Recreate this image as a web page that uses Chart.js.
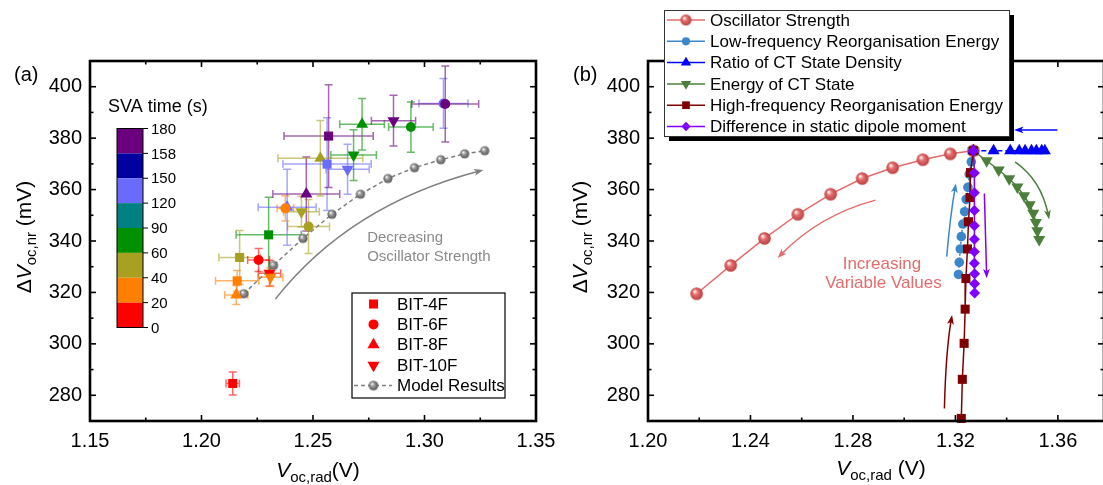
<!doctype html>
<html lang="en">
<head>
<meta charset="UTF-8" />
<title>Voc,nr vs Voc,rad</title>
<script src="https://cdn.jsdelivr.net/npm/chart.js"></script>
<style>
  html, body { margin: 0; padding: 0; background: #fff; overflow: hidden; }
  #wrapA { position: absolute; left: 0; top: 0; width: 570px; height: 485px; }
  #wrapB { position: absolute; left: 551px; top: 0; width: 560px; height: 485px; }
</style>
</head>
<body>
<div id="wrapA"><canvas id="chartA"></canvas></div>
<div id="wrapB"><canvas id="chartB"></canvas></div>
<script>
const FONT = "'Liberation Sans', Arial, Helvetica, sans-serif"
Chart.defaults.font.family = FONT
Chart.defaults.color = '#000'

// ---------- shared model curve (oscillator strength sweep) ----------
const modelX = [1.219, 1.2323, 1.2455, 1.2585, 1.2713, 1.2836, 1.2955, 1.3073, 1.318, 1.327]
const modelY = [319.5, 330.5, 341.0, 350.4, 358.2, 364.3, 368.5, 371.6, 373.9, 375.1]

// ---------- SVA time colour scale ----------
const svaTicks = [0, 20, 40, 60, 90, 120, 150, 158, 180]
const svaColors = ['#ff0000', '#ff8000', '#a8a020', '#009000', '#008080', '#6a6aff', '#0000a0', '#6b007f']

// ---------- panel (a) measured points (t = SVA time bin start) ----------
const f4X = [1.214, 1.216, 1.2171, 1.2301, 1.2563, 1.257]
const f4Y = [284.6, 324.5, 333.6, 342.4, 369.9, 380.8]
const f4Ex = [0.003, 0.0097, 0.0093, 0.0146, 0.0198, 0.02]
const f4Ey = [4.5, 4, 10.5, 14.6, 18, 20]
const f4T = [0, 20, 40, 60, 120, 158]

const f6X = [1.2256, 1.2376, 1.248, 1.2939, 1.3085, 1.3093]
const f6Y = [332.6, 352.7, 345.6, 384.3, 393.5, 393.3]
const f6Ex = [0.0049, 0.0037, 0.0094, 0.010, 0.011, 0.015]
const f6Ey = [4.5, 4.9, 10.5, 9.8, 9.7, 14.8]
const f6T = [0, 20, 40, 60, 120, 158]

const f8X = [1.2156, 1.2384, 1.247, 1.2533, 1.272]
const f8Y = [319.0, 353.1, 358.3, 372.2, 385.4]
const f8Ex = [0.0052, 0.013, 0.015, 0.019, 0.010]
const f8Ey = [3.7, 14.8, 14.4, 14.7, 10]
const f8T = [20, 120, 158, 40, 60]

const f10X = [1.2305, 1.2309, 1.2448, 1.2655, 1.2682, 1.2861]
const f10Y = [327.5, 325.9, 351.4, 367.9, 373.4, 386.8]
const f10Ex = [0.005, 0.0056, 0.008, 0.0097, 0.0102, 0.0099]
const f10Ey = [5, 3.6, 6, 9.7, 9.9, 9.9]
const f10T = [0, 20, 40, 120, 60, 158]

// ---------- panel (b) parameter sweeps ----------
const lowX = [1.327, 1.3262, 1.3254, 1.3249, 1.3242, 1.3236, 1.3229, 1.3223, 1.3219, 1.3215, 1.3212]
const lowY = [375.1, 370.8, 366.0, 360.9, 356.2, 351.4, 346.6, 341.7, 336.9, 331.7, 327.0]
const ratioX = [1.327, 1.3349, 1.3414, 1.3449, 1.3472, 1.3497, 1.3516, 1.3537, 1.3549]
const ratioY = [375.1, 375.1, 375.1, 375.1, 375.1, 375.1, 375.1, 375.1, 375.1]
const ectX = [1.327, 1.3322, 1.3369, 1.341, 1.3442, 1.3468, 1.349, 1.3504, 1.3514, 1.352, 1.3527]
const ectY = [375.1, 371.2, 367.6, 364.2, 361.0, 357.6, 354.1, 350.8, 347.2, 344.0, 340.6]
const hfX = [1.327, 1.3259, 1.3257, 1.3251, 1.3247, 1.3241, 1.3238, 1.3234, 1.3227, 1.3223]
const hfY = [375.1, 366.6, 356.9, 347.5, 336.9, 325.4, 313.5, 300.2, 286.2, 271.0]
const dipX = [1.327, 1.3274, 1.3274, 1.3274, 1.3274, 1.3274, 1.3274, 1.3274, 1.3275, 1.3275, 1.3275]
const dipY = [375.1, 366.4, 358.8, 351.9, 345.9, 340.7, 335.8, 331.3, 327.3, 323.4, 319.8]

// ---------- axis ticks ----------
const xMajA = [1.15, 1.2, 1.25, 1.3, 1.35]
const xMinA = [1.175, 1.225, 1.275, 1.325]
const xMajB = [1.2, 1.24, 1.28, 1.32, 1.36]
const xMinB = [1.22, 1.26, 1.3, 1.34]
const yMaj = [280, 300, 320, 340, 360, 380, 400]
const yMin = [290, 310, 330, 350, 370, 390]

// annotation arrows in data units: [x0, y0, cx, cy, x1, y1, colour]
const arrowsA = [[1.2331, 317.4, 1.2665, 354.0, 1.3264, 367.6, '#808080']]
const arrowsB = [
  [1.2888, 355.9, 1.267, 350.1, 1.2506, 333.4, '#e56b6b'],
  [1.3166, 333.9, 1.318, 350.1, 1.3202, 362.4, '#3c87c9'],
  [1.3313, 358.5, 1.3318, 342.3, 1.3322, 325.5, '#8000ff'],
  [1.3433, 370.8, 1.3535, 363.7, 1.3566, 348.4, '#4b7f3b'],
  [1.3157, 274.9, 1.3163, 297.6, 1.3187, 311.2, '#7f0000'],
  [1.3598, 383.2, 1.351, 383.2, 1.3429, 383.2, '#0000ff']
]

const pts = (xs, ys) => xs.map((v, i) => ({ x: v, y: ys[i] }))
const svaColor = t => svaColors[svaTicks.indexOf(t)]

function sphere(r, base, dark) {
  const c = document.createElement('canvas')
  const s = Math.ceil(r * 2) + 2
  c.width = c.height = s
  const g = c.getContext('2d')
  const grad = g.createRadialGradient(s / 2 - r * 0.35, s / 2 - r * 0.4, r * 0.05, s / 2, s / 2, r)
  grad.addColorStop(0, '#ffffff')
  grad.addColorStop(0.4, base)
  grad.addColorStop(1, dark)
  g.fillStyle = grad
  g.beginPath()
  g.arc(s / 2, s / 2, r, 0, Math.PI * 2)
  g.fill()
  return c
}
const graySphere = sphere(4.6, '#9a9a9a', '#555')
const pinkSphere = sphere(6.3, '#e86e6e', '#b84040')
const pinkSphereSmall = sphere(5.5, '#e86e6e', '#b84040')
const graySphereLeg = sphere(4.8, '#9a9a9a', '#555')

function marker(ctx, style, x, y, r, color) {
  if (typeof style !== 'string') {
    ctx.drawImage(style, x - style.width / 2, y - style.height / 2)
    return
  }
  ctx.fillStyle = color
  ctx.beginPath()
  if (style === 'circle') ctx.arc(x, y, r, 0, Math.PI * 2)
  else if (style === 'rect') { const s = r * Math.SQRT1_2; ctx.rect(x - s, y - s, 2 * s, 2 * s) }
  else if (style === 'triangle') { ctx.moveTo(x, y - r); ctx.lineTo(x + r * 0.866, y + r / 2); ctx.lineTo(x - r * 0.866, y + r / 2); ctx.closePath() }
  else if (style === 'down') { ctx.moveTo(x, y + r); ctx.lineTo(x + r * 0.866, y - r / 2); ctx.lineTo(x - r * 0.866, y - r / 2); ctx.closePath() }
  else if (style === 'rectRot') { ctx.moveTo(x, y - r); ctx.lineTo(x + r, y); ctx.lineTo(x, y + r); ctx.lineTo(x - r, y); ctx.closePath() }
  ctx.fill()
}

function rgba(hex, a) {
  const n = parseInt(hex.slice(1), 16)
  return `rgba(${n >> 16},${(n >> 8) & 255},${n & 255},${a})`
}

function richText(ctx, parts, cx, cy, rot) {
  ctx.save()
  ctx.translate(cx, cy)
  if (rot) ctx.rotate(rot)
  ctx.fillStyle = '#000'
  ctx.textAlign = 'left'
  ctx.textBaseline = 'alphabetic'
  let w = 0
  parts.forEach(p => { ctx.font = p.f; p.w = ctx.measureText(p.t).width; w += p.w })
  let x = -w / 2
  parts.forEach(p => { ctx.font = p.f; ctx.fillText(p.t, x, p.dy); x += p.w })
  ctx.restore()
}

function drawArrow(ctx, sx, sy, a) {
  const x0 = sx.getPixelForValue(a[0]), y0 = sy.getPixelForValue(a[1])
  const cx = sx.getPixelForValue(a[2]), cy = sy.getPixelForValue(a[3])
  const x1 = sx.getPixelForValue(a[4]), y1 = sy.getPixelForValue(a[5])
  const ang = Math.atan2(y1 - cy, x1 - cx)
  ctx.save()
  ctx.strokeStyle = a[6]
  ctx.fillStyle = a[6]
  ctx.lineWidth = 1.5
  ctx.beginPath()
  ctx.moveTo(x0, y0)
  ctx.quadraticCurveTo(cx, cy, x1 - Math.cos(ang) * 5, y1 - Math.sin(ang) * 5)
  ctx.stroke()
  ctx.beginPath()
  ctx.moveTo(x1, y1)
  ctx.lineTo(x1 - Math.cos(ang - 0.35) * 10, y1 - Math.sin(ang - 0.35) * 10)
  ctx.lineTo(x1 - Math.cos(ang) * 7, y1 - Math.sin(ang) * 7)
  ctx.lineTo(x1 - Math.cos(ang + 0.35) * 10, y1 - Math.sin(ang + 0.35) * 10)
  ctx.closePath()
  ctx.fill()
  ctx.restore()
}

// box with inward ticks on all four sides
function drawFrame(chart, xMaj, xMin) {
  const { ctx, chartArea: a, scales: { x, y } } = chart
  ctx.save()
  ctx.strokeStyle = '#000'
  ctx.lineWidth = 1.6
  const tick = (px, py, dx, dy) => { ctx.beginPath(); ctx.moveTo(px, py); ctx.lineTo(px + dx, py + dy); ctx.stroke() }
  xMaj.forEach(v => { const p = x.getPixelForValue(v); tick(p, a.bottom, 0, -6); tick(p, a.top, 0, 6) })
  xMin.forEach(v => { const p = x.getPixelForValue(v); tick(p, a.bottom, 0, -3.5); tick(p, a.top, 0, 3.5) })
  yMaj.forEach(v => { const p = y.getPixelForValue(v); tick(a.left, p, 6, 0); tick(a.right, p, -6, 0) })
  yMin.forEach(v => { const p = y.getPixelForValue(v); tick(a.left, p, 3.5, 0); tick(a.right, p, -3.5, 0) })
  ctx.lineWidth = 2.6
  ctx.strokeRect(a.left, a.top, a.right - a.left, a.bottom - a.top)
  ctx.restore()
}

function scalesFor(xmin, xmax, xTicks, yWidth) {
  return {
    x: {
      type: 'linear', min: xmin, max: xmax,
      grid: { display: false, drawTicks: false }, border: { display: false },
      ticks: { font: { size: 20 }, padding: 8, maxRotation: 0, autoSkip: false, callback: v => v.toFixed(2) },
      afterBuildTicks: s => { s.ticks = xTicks.map(v => ({ value: v })) },
      afterFit: s => { s.height = 64; s.paddingLeft = 0; s.paddingRight = 0 }
    },
    y: {
      type: 'linear', min: 270, max: 410,
      grid: { display: false, drawTicks: false }, border: { display: false },
      ticks: { font: { size: 20 }, padding: 8, autoSkip: false, callback: v => String(v) },
      afterBuildTicks: s => { s.ticks = yMaj.map(v => ({ value: v })) },
      afterFit: s => { s.width = yWidth; s.paddingTop = 0; s.paddingBottom = 0 }
    }
  }
}

const yTitle = [
  { t: 'Δ', f: '21px ' + FONT, dy: 7 },
  { t: 'V', f: 'italic 21px ' + FONT, dy: 7 },
  { t: 'oc,nr', f: '15px ' + FONT, dy: 12 },
  { t: ' (mV)', f: '21px ' + FONT, dy: 7 }
]

// ================= panel (a) =================
function expSet(label, style, r, rot, xs, ys, exs, eys, ts) {
  const cols = ts.map(svaColor)
  return {
    label, data: pts(xs, ys), showLine: false, order: 1,
    pointStyle: style, pointRotation: rot, pointRadius: r, pointHoverRadius: r, pointBorderWidth: 0,
    pointBackgroundColor: cols, pointBorderColor: cols,
    ex: exs, ey: eys, errColor: cols
  }
}

const errorBars = {
  id: 'errorBars',
  beforeDatasetsDraw(chart) {
    const { ctx, scales: { x, y } } = chart
    ctx.save()
    ctx.lineWidth = 1.5
    chart.data.datasets.forEach(ds => {
      if (!ds.ex) return
      ds.data.forEach((p, i) => {
        const px = x.getPixelForValue(p.x), py = y.getPixelForValue(p.y)
        const xl = x.getPixelForValue(p.x - ds.ex[i]), xr = x.getPixelForValue(p.x + ds.ex[i])
        const yt = y.getPixelForValue(p.y + ds.ey[i]), yb = y.getPixelForValue(p.y - ds.ey[i])
        ctx.strokeStyle = rgba(ds.errColor[i], 0.6)
        ctx.beginPath()
        ctx.moveTo(xl, py); ctx.lineTo(xr, py)
        ctx.moveTo(px, yt); ctx.lineTo(px, yb)
        ctx.moveTo(xl, py - 4); ctx.lineTo(xl, py + 4)
        ctx.moveTo(xr, py - 4); ctx.lineTo(xr, py + 4)
        ctx.moveTo(px - 4, yt); ctx.lineTo(px + 4, yt)
        ctx.moveTo(px - 4, yb); ctx.lineTo(px + 4, yb)
        ctx.stroke()
      })
    })
    ctx.restore()
  }
}

const decorA = {
  id: 'decorA',
  afterDraw(chart) {
    const { ctx, scales: { x, y } } = chart
    drawFrame(chart, xMajA, xMinA)
    arrowsA.forEach(a => drawArrow(ctx, x, y, a))

    ctx.save()
    ctx.fillStyle = '#8a8a8a'
    ctx.font = '15px ' + FONT
    ctx.textAlign = 'left'
    ctx.textBaseline = 'middle'
    ctx.fillText('Decreasing', x.getPixelForValue(1.2743), y.getPixelForValue(341.3))
    ctx.fillText('Oscillator Strength', x.getPixelForValue(1.2743), y.getPixelForValue(333.9))

    // colour bar
    const bx = 117, bw = 26, btop = 128.5, bh = 199 / svaColors.length
    svaColors.slice().reverse().forEach((c, i) => {
      ctx.fillStyle = c
      ctx.fillRect(bx, btop + i * bh, bw, bh)
    })
    ctx.strokeStyle = '#000'
    ctx.lineWidth = 1
    ctx.strokeRect(bx, btop, bw, 199)
    ctx.fillStyle = '#000'
    ctx.font = '15px ' + FONT
    svaTicks.slice().reverse().forEach((t, i) => {
      const ty = btop + i * bh
      ctx.beginPath(); ctx.moveTo(bx + bw, ty); ctx.lineTo(bx + bw + 5, ty); ctx.stroke()
      ctx.fillText(String(t), bx + bw + 8, ty + 1)
    })
    ctx.font = '18px ' + FONT
    ctx.fillText('SVA time (s)', 108, 107)

    // legend
    ctx.fillStyle = '#fff'
    ctx.fillRect(352, 293, 153, 105)
    ctx.strokeStyle = '#000'
    ctx.lineWidth = 1.2
    ctx.strokeRect(352, 293, 153, 105)
    const legA = [['rect', 6.4, 'BIT-4F'], ['circle', 5, 'BIT-6F'], ['triangle', 7, 'BIT-8F'], ['down', 7, 'BIT-10F']]
    ctx.font = '17px ' + FONT
    legA.forEach((e, i) => {
      const ly = 304 + i * 20.4
      marker(ctx, e[0], 373.5, ly, e[1], '#ff0000')
      ctx.fillStyle = '#000'
      ctx.fillText(e[2], 397, ly + 1)
    })
    const my = 304 + 4 * 20.4
    ctx.strokeStyle = '#808080'
    ctx.lineWidth = 1.5
    ctx.setLineDash([4, 3])
    ctx.beginPath(); ctx.moveTo(354, my); ctx.lineTo(392, my); ctx.stroke()
    ctx.setLineDash([])
    marker(ctx, graySphereLeg, 373.5, my)
    ctx.fillStyle = '#000'
    ctx.fillText('Model Results', 397, my + 1)

    ctx.font = '20px ' + FONT
    ctx.fillText('(a)', 14, 75)
    ctx.restore()

    richText(ctx, yTitle, 24, 237, -Math.PI / 2)
    richText(ctx, [
      { t: 'V', f: 'italic 21px ' + FONT, dy: 7 },
      { t: 'oc,rad', f: '15px ' + FONT, dy: 12 },
      { t: '(V)', f: '21px ' + FONT, dy: 7 }
    ], 318, 470)
  }
}

new Chart(document.getElementById('chartA'), {
  type: 'scatter',
  data: {
    datasets: [
      {
        label: 'Model Results', data: pts(modelX, modelY), showLine: true, order: 5,
        borderColor: '#808080', borderWidth: 1.5, borderDash: [4, 3],
        pointStyle: graySphere, pointRadius: 4.6, pointHoverRadius: 4.6
      },
      expSet('BIT-4F', 'rect', 6.4, 0, f4X, f4Y, f4Ex, f4Ey, f4T),
      expSet('BIT-6F', 'circle', 5, 0, f6X, f6Y, f6Ex, f6Ey, f6T),
      expSet('BIT-8F', 'triangle', 7, 0, f8X, f8Y, f8Ex, f8Ey, f8T),
      expSet('BIT-10F', 'triangle', 7, 180, f10X, f10Y, f10Ex, f10Ey, f10T)
    ]
  },
  options: {
    responsive: true, maintainAspectRatio: false, animation: false, events: [],
    layout: { padding: { left: 0, right: 34, top: 61, bottom: 0 } },
    plugins: { legend: { display: false }, tooltip: { enabled: false } },
    scales: scalesFor(1.15, 1.35, xMajA, 90)
  },
  plugins: [errorBars, decorA]
})

// ================= panel (b) =================
const decorB = {
  id: 'decorB',
  afterDraw(chart) {
    const { ctx, scales: { x, y } } = chart
    drawFrame(chart, xMajB, xMinB)
    arrowsB.forEach(a => drawArrow(ctx, x, y, a))

    ctx.save()
    ctx.fillStyle = '#e56b6b'
    ctx.font = '17px ' + FONT
    ctx.textAlign = 'center'
    ctx.textBaseline = 'middle'
    ctx.fillText('Increasing', x.getPixelForValue(1.2913), y.getPixelForValue(331.0))
    ctx.fillText('Variable Values', x.getPixelForValue(1.2919), y.getPixelForValue(323.5))

    // legend with drop shadow
    const lx = 113, ly = 10, lw = 345, lh = 126
    ctx.fillStyle = '#000'
    ctx.fillRect(lx + 5, ly + 5, lw, lh)
    ctx.fillStyle = '#fff'
    ctx.fillRect(lx, ly, lw, lh)
    ctx.strokeStyle = '#333'
    ctx.lineWidth = 1
    ctx.strokeRect(lx + 0.5, ly + 0.5, lw, lh)
    ctx.textAlign = 'left'
    ctx.font = '17px ' + FONT
    chart.data.datasets.forEach((ds, i) => {
      const ry = 20 + i * 21.3
      ctx.strokeStyle = ds.borderColor
      ctx.lineWidth = 1.5
      ctx.beginPath(); ctx.moveTo(lx + 3, ry); ctx.lineTo(lx + 41, ry); ctx.stroke()
      const st = ds.legendStyle || ds.pointStyle
      marker(ctx, st, lx + 22, ry, ds.legendRadius, ds.pointBackgroundColor)
      ctx.fillStyle = '#000'
      ctx.fillText(ds.label, lx + 46, ry + 1)
    })

    ctx.font = '20px ' + FONT
    ctx.fillText('(b)', 22, 75)
    ctx.restore()

    richText(ctx, yTitle, 29, 237, -Math.PI / 2)
    richText(ctx, [
      { t: 'V', f: 'italic 21px ' + FONT, dy: 7 },
      { t: 'oc,rad', f: '15px ' + FONT, dy: 12 },
      { t: ' (V)', f: '21px ' + FONT, dy: 7 }
    ], 330, 468)
  }
}

function sweep(label, xs, ys, color, style, r, order, extra) {
  return Object.assign({
    label, data: pts(xs, ys), showLine: true, order, clip: false,
    borderColor: color, borderWidth: 1.5,
    pointStyle: style, pointRadius: r, pointHoverRadius: r, pointBorderWidth: 0,
    pointBackgroundColor: color, pointBorderColor: color, legendRadius: r * 0.85
  }, extra || {})
}

new Chart(document.getElementById('chartB'), {
  type: 'scatter',
  data: {
    datasets: [
      sweep('Oscillator Strength', modelX, modelY, '#e56b6b', pinkSphere, 6.3, 6, { legendStyle: pinkSphereSmall }),
      sweep('Low-frequency Reorganisation Energy', lowX, lowY, '#3c87c9', 'circle', 4.8, 5, { borderDash: [2, 2] }),
      sweep('Ratio of CT State Density', ratioX, ratioY, '#0000ff', 'triangle', 7, 4, { borderDash: [5, 3] }),
      sweep('Energy of CT State', ectX, ectY, '#4b7f3b', 'triangle', 7, 3, { pointRotation: 180, legendStyle: 'down' }),
      sweep('High-frequency Reorganisation Energy', hfX, hfY, '#7f0000', 'rect', 6.4, 2),
      sweep('Difference in static dipole moment', dipX, dipY, '#8000ff', 'rectRot', 5.5, 1)
    ]
  },
  options: {
    responsive: true, maintainAspectRatio: false, animation: false, events: [],
    layout: { padding: { left: 0, right: 6, top: 61, bottom: 0 } },
    plugins: { legend: { display: false }, tooltip: { enabled: false } },
    scales: scalesFor(1.2, 1.378, xMajB, 97)
  },
  plugins: [decorB]
})
</script>
</body>
</html>
